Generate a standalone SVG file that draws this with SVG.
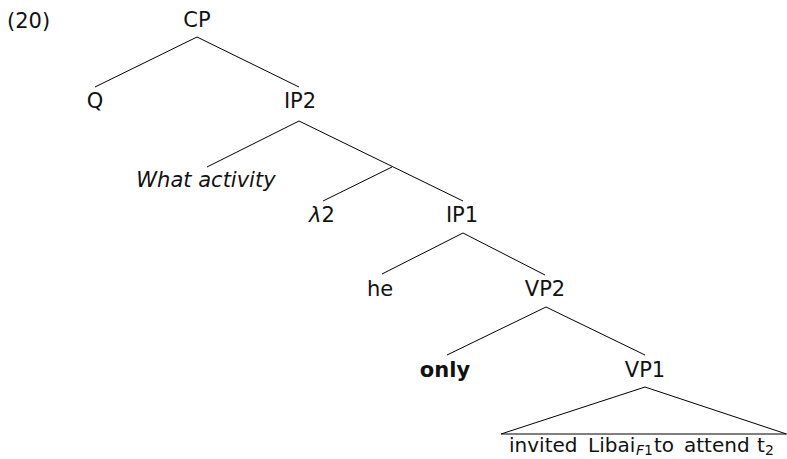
<svg xmlns="http://www.w3.org/2000/svg" width="787" height="459" viewBox="0 0 787 459">
<style>
text{font-family:"DejaVu Sans","Liberation Sans",sans-serif;font-size:21px;fill:#111;text-anchor:middle}
.l{text-anchor:start}
.e{stroke:#000;stroke-width:1;fill:none}
.sub{font-size:14px}
.leaf{font-size:20px}
</style>
<rect width="787" height="459" fill="#fff"/>
<text class="l" x="7" y="28">(20)</text>
<g id="connectors">
<path class="e" d="M197,37 L95,87 M197,37 L299,87"/>
<path class="e" d="M299,121 L207,167 M299,121 L463,201 M392,167 L323,201"/>
<path class="e" d="M463,233 L382,274 M463,233 L545,275"/>
<path class="e" d="M546,307 L447,355 M546,307 L645,355"/>
<path class="e" d="M645,387 L501,434 L786.5,434 Z"/>
</g>
<g id="CP"><text x="197" y="27">CP</text></g>
<g id="Q"><text x="95" y="108">Q</text></g>
<g id="IP2"><text x="300" y="108">IP2</text></g>
<g id="WhatActivity"><text x="206" y="187" font-style="italic">What activity</text></g>
<g id="lambda2"><text x="322" y="222"><tspan font-style="italic">λ</tspan>2</text></g>
<g id="IP1"><text x="462" y="222">IP1</text></g>
<g id="he"><text x="380" y="296">he</text></g>
<g id="VP2"><text x="545" y="296">VP2</text></g>
<g id="only"><text x="445" y="377" font-weight="bold">only</text></g>
<g id="VP1"><text x="645" y="377">VP1</text></g>
<g id="VP1content"><text class="l leaf" y="452"><tspan x="509">invited</tspan><tspan x="588">Libai</tspan><tspan x="636" dy="3" class="sub"><tspan font-style="italic">F</tspan>1</tspan><tspan x="654" dy="-3">to</tspan><tspan x="684">attend</tspan><tspan x="757">t</tspan><tspan x="765" dy="3" class="sub">2</tspan></text></g>
</svg>
